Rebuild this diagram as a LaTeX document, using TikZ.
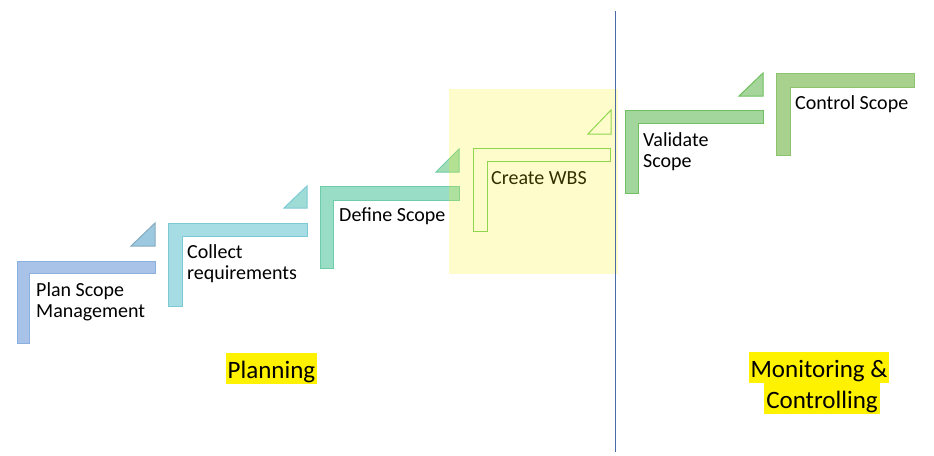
\documentclass[tikz,border=0pt]{standalone}
\usepackage{fontspec}
\setmainfont{Carlito}
\definecolor{c1f}{HTML}{A9C3E8}\definecolor{c1d}{HTML}{8AB0E0}
\definecolor{c2f}{HTML}{A6DCE4}\definecolor{c2d}{HTML}{7CCAD6}
\definecolor{c3f}{HTML}{9ADDC6}\definecolor{c3d}{HTML}{6CCDA8}
\definecolor{c4d}{HTML}{74CF62}
\definecolor{c5f}{HTML}{A3D69C}\definecolor{c5d}{HTML}{70C060}
\definecolor{c6f}{HTML}{A9D18E}\definecolor{c6d}{HTML}{8CC36C}
\definecolor{t1}{HTML}{9CC9E0}
\definecolor{t2}{HTML}{A0DCD6}
\definecolor{t3}{HTML}{A2DDB6}
\definecolor{t5}{HTML}{A5D59A}
\definecolor{vline}{HTML}{4A6AA8}
\tikzset{
  shp/.style={line width=1pt, line join=miter},
  lbl/.style={anchor=base west, inner sep=0pt, font=\fontsize{20}{21.5}\selectfont, text=black},
  hl/.style={anchor=base, fill=yellow, inner xsep=2pt, inner ysep=0pt, text height=25pt, text depth=6pt, font=\fontsize{25}{30}\selectfont}
}
\begin{document}
\begin{tikzpicture}[x=1pt,y=-1pt]
\useasboundingbox (0,0) rectangle (934,455);
\fill[white] (0,0) rectangle (934,455);
% step 1
\draw[shp, fill=c1f, draw=c1d] (17,261) -- (155,261) -- (155,273) -- (29,273) -- (29,343) -- (17,343) -- cycle;
\draw[shp, fill=t1, draw=t1!85!black] (131,246) -- (155,223) -- (155,246) -- cycle;
% step 2
\draw[shp, fill=c2f, draw=c2d] (168,223) -- (307,223) -- (307,236) -- (182,236) -- (182,306) -- (168,306) -- cycle;
\draw[shp, fill=t2, draw=c2d] (284,208) -- (307,186) -- (307,208) -- cycle;
% step 3
\draw[shp, fill=c3f, draw=c3d] (320,186) -- (459,186) -- (459,200) -- (333,200) -- (333,268) -- (320,268) -- cycle;
\draw[shp, fill=t3, draw=c3d] (436,172) -- (459,149) -- (459,172) -- cycle;
% step 4
\draw[shp, draw=c4d] (473,148) -- (610,148) -- (610,161) -- (487,161) -- (487,231) -- (473,231) -- cycle;
\draw[shp, draw=c4d] (588,134) -- (611,110) -- (611,134) -- cycle;
% step 5
\draw[shp, fill=c5f, draw=c5d] (625,110) -- (763,110) -- (763,123) -- (638,123) -- (638,193) -- (625,193) -- cycle;
\draw[shp, fill=t5, draw=c5d] (739,96) -- (763,73) -- (763,96) -- cycle;
% step 6
\draw[shp, fill=c6f, draw=c6d] (776,73) -- (914,73) -- (914,87) -- (790,87) -- (790,155) -- (776,155) -- cycle;
% labels
\node[lbl] (l1) at (36,296) {\vtop{\hbox{Plan Scope}\hbox{Management}}};
\node[lbl] (l2) at (187,258) {\vtop{\hbox{Collect}\hbox{requirements}}};
\node[lbl] (l3) at (339,221) {Define Scope};
\node[lbl] (l4) at (491,184) {Create WBS};
\node[lbl] (l5) at (643,146) {\vtop{\hbox{Validate}\hbox{Scope}}};
\node[lbl] (l6) at (795,109) {Control Scope};
% highlight box
\fill[yellow, fill opacity=0.2] (449,89) rectangle (618,274);
% divider
\coordinate (vtop) at (615,11);
\coordinate (vbot) at (615,452);
\draw[vline, line width=0.9pt] (vtop) -- (vbot);
% phases
\node[hl] (p1) at (271.5,378) {Planning};
\node[hl] (p2) at (819,377) {Monitoring \&};
\node[hl] (p3) at (822,408) {Controlling};
\end{tikzpicture}
\end{document}
